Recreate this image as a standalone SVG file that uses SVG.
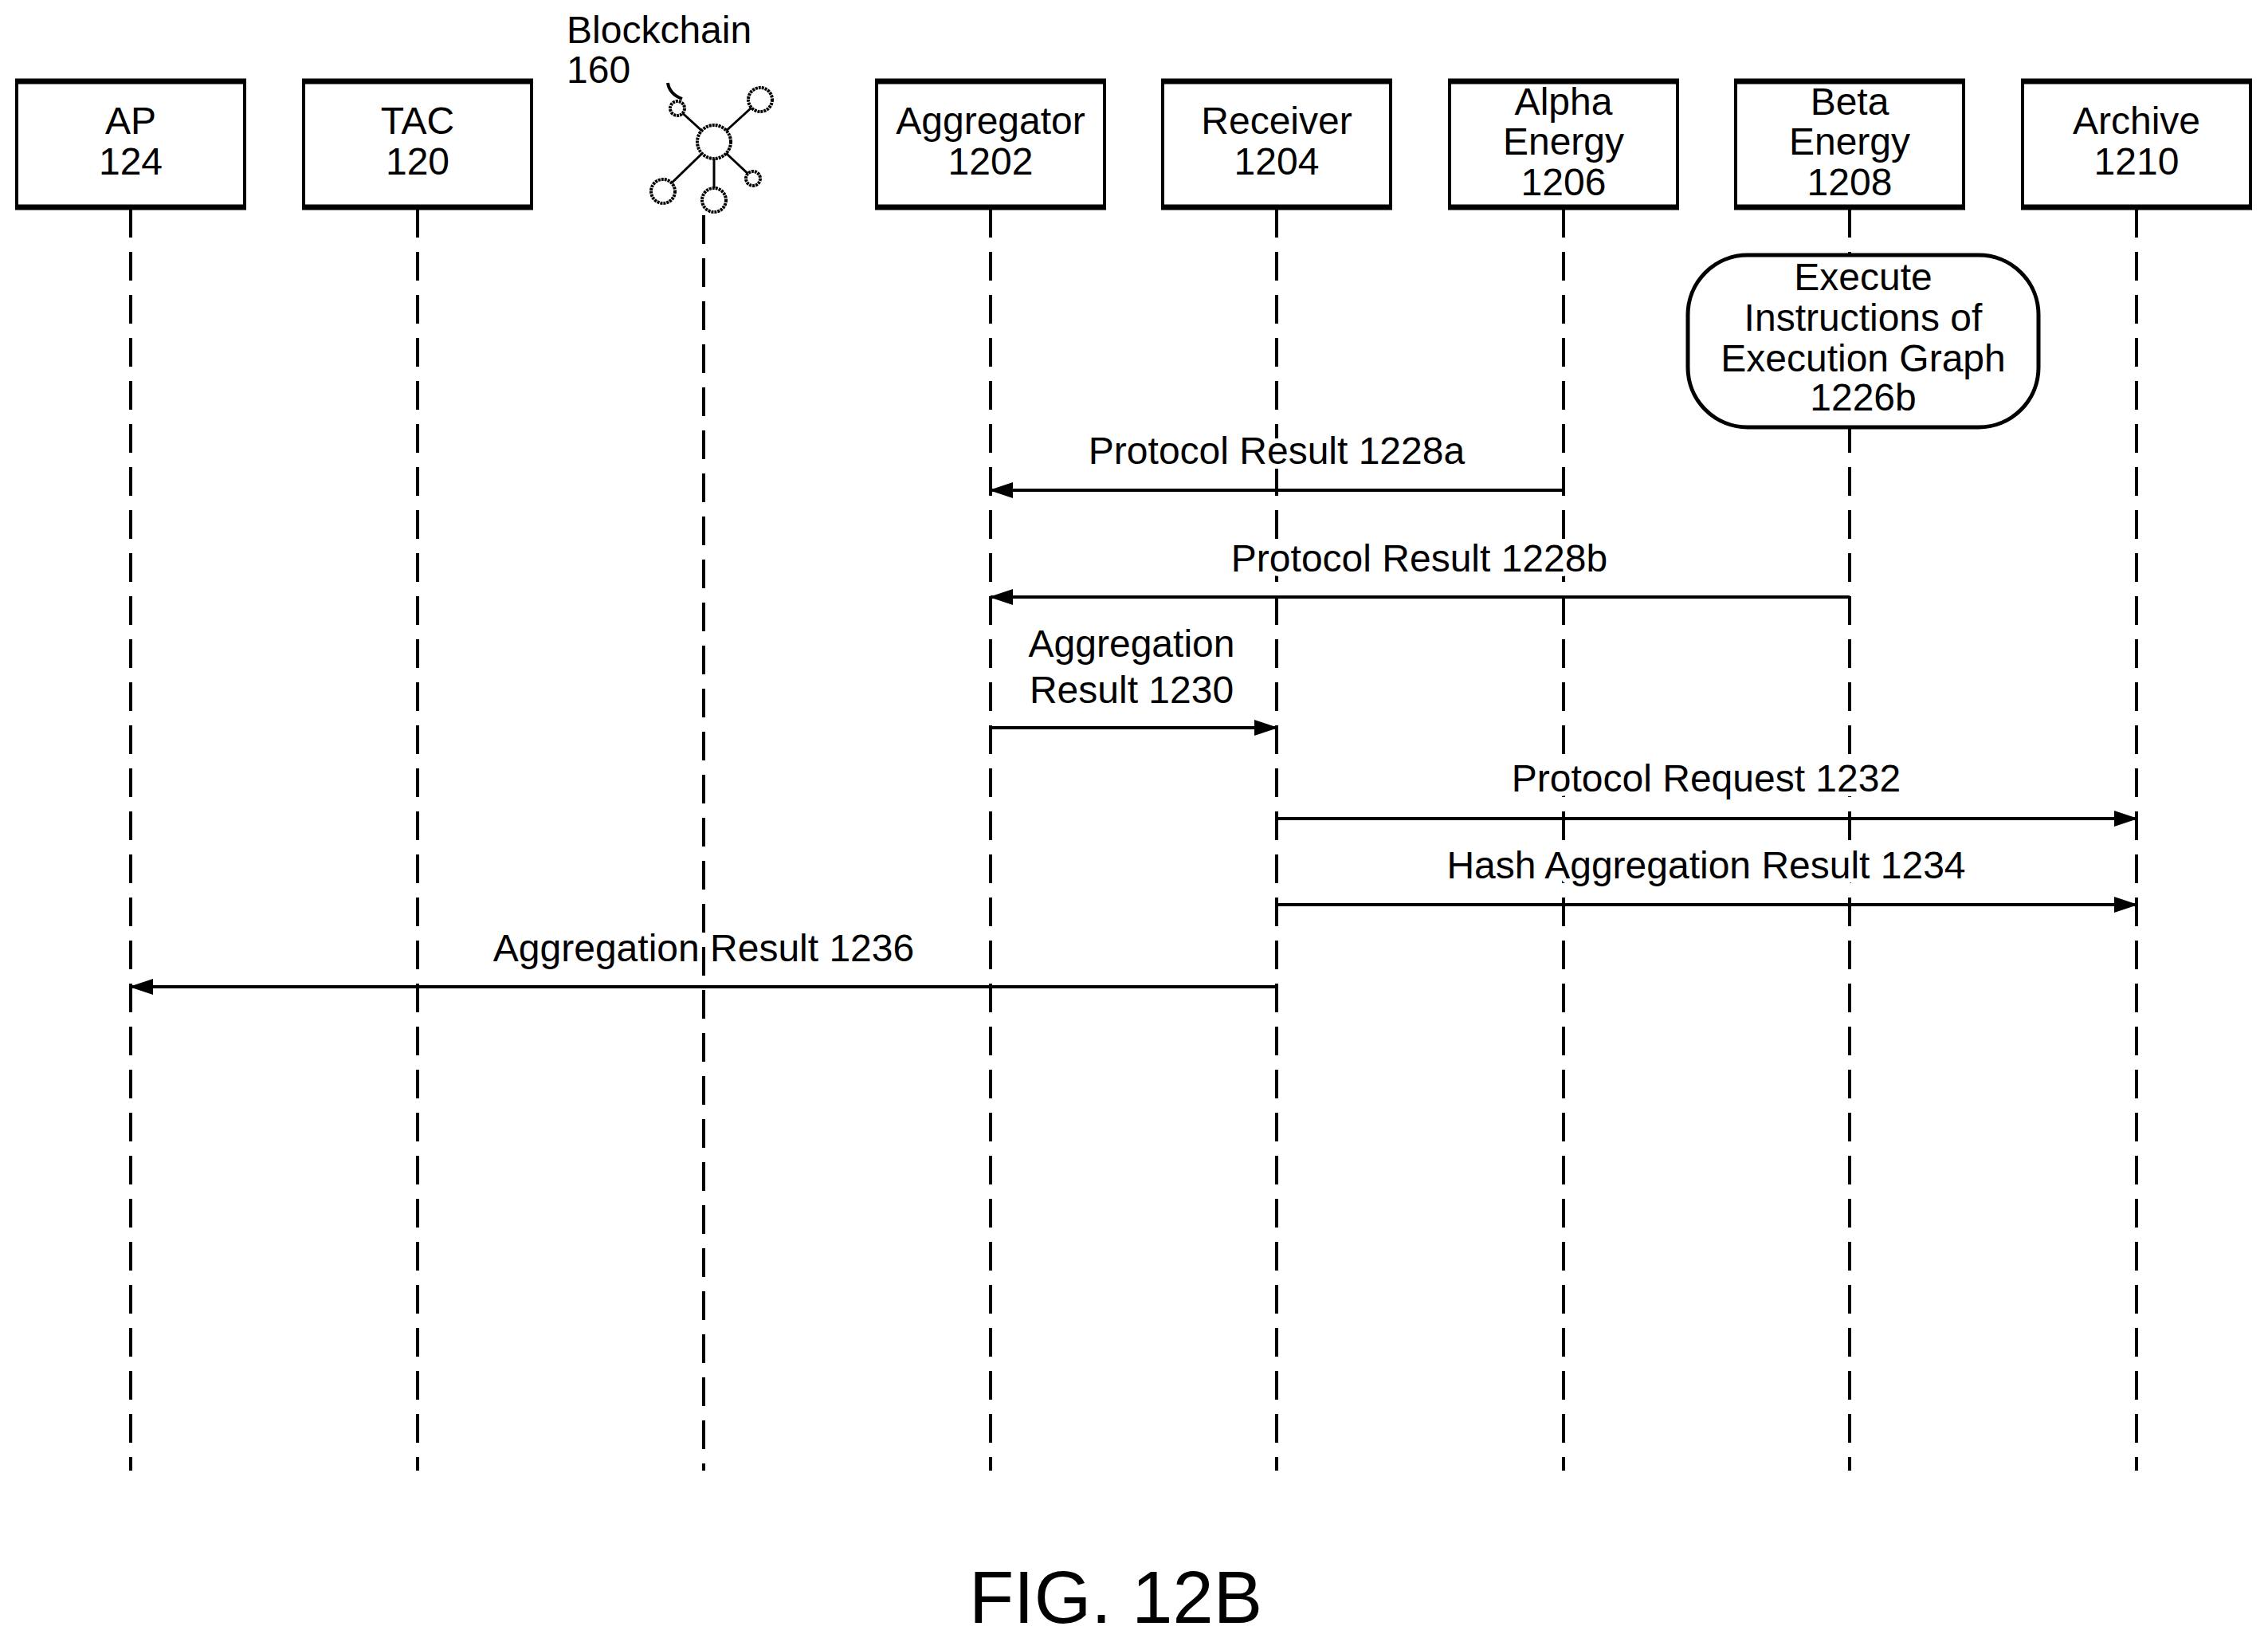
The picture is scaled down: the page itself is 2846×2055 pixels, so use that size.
<svg xmlns="http://www.w3.org/2000/svg" width="2846" height="2055" viewBox="0 0 2846 2055">
<style>
text{font-family:"Liberation Sans",Arial,sans-serif;font-size:48px;fill:#000;text-anchor:middle}
.lbl{stroke:#fff;stroke-width:12;paint-order:stroke;stroke-linejoin:round}
.box{fill:#fff;stroke:#000;stroke-width:4}
.edge{stroke:#000;stroke-width:7}
.life{stroke:#000;stroke-width:4;stroke-dasharray:36 18}
.msg{stroke:#000;stroke-width:4;fill:none;marker-end:url(#ah)}
.ic{fill:#fff;stroke:#000;stroke-width:4;stroke-dasharray:3 1}
</style>
<defs>
<marker id="ah" markerUnits="userSpaceOnUse" markerWidth="30" markerHeight="20" refX="28" refY="10" orient="auto">
<path d="M0,0 L30,10 L0,20 Z" fill="#000"/>
</marker>
</defs>
<rect width="2846" height="2055" fill="#fff"/>
<g id="lifelines">
<line class="life" x1="164" y1="262" x2="164" y2="1845"/>
<line class="life" x1="524" y1="262" x2="524" y2="1845"/>
<line class="life" x1="883" y1="270" x2="883" y2="1845"/>
<line class="life" x1="1243" y1="262" x2="1243" y2="1845"/>
<line class="life" x1="1602" y1="262" x2="1602" y2="1845"/>
<line class="life" x1="1962" y1="262" x2="1962" y2="1845"/>
<line class="life" x1="2321" y1="262" x2="2321" y2="1845"/>
<line class="life" x1="2681" y1="262" x2="2681" y2="1845"/>
</g>
<g id="ap"><rect class="box" x="21" y="102" width="286" height="158"/><line class="edge" x1="19" y1="102" x2="309" y2="102"/><line class="edge" x1="19" y1="260" x2="309" y2="260"/><text x="164" y="168">AP</text><text x="164" y="219">124</text></g>
<g id="tac"><rect class="box" x="381" y="102" width="286" height="158"/><line class="edge" x1="379" y1="102" x2="669" y2="102"/><line class="edge" x1="379" y1="260" x2="669" y2="260"/><text x="524" y="168">TAC</text><text x="524" y="219">120</text></g>
<g id="blockchain">
<text x="711" y="54" style="text-anchor:start">Blockchain</text>
<text x="711" y="104" style="text-anchor:start">160</text>
<path d="M838,104 Q840,118 856,124" fill="none" stroke="#000" stroke-width="4"/>
<g stroke="#000" stroke-width="3">
<line x1="896" y1="178" x2="850" y2="136"/><line x1="896" y1="178" x2="954" y2="125"/>
<line x1="896" y1="178" x2="832" y2="240"/><line x1="896" y1="178" x2="896" y2="251"/>
<line x1="896" y1="178" x2="945" y2="224"/>
</g>
<circle class="ic" cx="896" cy="178" r="21"/>
<circle class="ic" cx="850" cy="136" r="9"/>
<circle class="ic" cx="954" cy="125" r="15"/>
<circle class="ic" cx="832" cy="240" r="15"/>
<circle class="ic" cx="896" cy="251" r="15"/>
<circle class="ic" cx="945" cy="224" r="9"/>
</g>
<g id="aggregator"><rect class="box" x="1100" y="102" width="286" height="158"/><line class="edge" x1="1098" y1="102" x2="1388" y2="102"/><line class="edge" x1="1098" y1="260" x2="1388" y2="260"/><text x="1243" y="168">Aggregator</text><text x="1243" y="219">1202</text></g>
<g id="receiver"><rect class="box" x="1459" y="102" width="286" height="158"/><line class="edge" x1="1457" y1="102" x2="1747" y2="102"/><line class="edge" x1="1457" y1="260" x2="1747" y2="260"/><text x="1602" y="168">Receiver</text><text x="1602" y="219">1204</text></g>
<g id="alpha"><rect class="box" x="1819" y="102" width="286" height="158"/><line class="edge" x1="1817" y1="102" x2="2107" y2="102"/><line class="edge" x1="1817" y1="260" x2="2107" y2="260"/><text x="1962" y="144">Alpha</text><text x="1962" y="194">Energy</text><text x="1962" y="245">1206</text></g>
<g id="beta"><rect class="box" x="2178" y="102" width="286" height="158"/><line class="edge" x1="2176" y1="102" x2="2466" y2="102"/><line class="edge" x1="2176" y1="260" x2="2466" y2="260"/><text x="2321" y="144">Beta</text><text x="2321" y="194">Energy</text><text x="2321" y="245">1208</text></g>
<g id="archive"><rect class="box" x="2538" y="102" width="286" height="158"/><line class="edge" x1="2536" y1="102" x2="2826" y2="102"/><line class="edge" x1="2536" y1="260" x2="2826" y2="260"/><text x="2681" y="168">Archive</text><text x="2681" y="219">1210</text></g>
<g id="execute"><rect class="box" x="2118" y="320" width="440" height="216" rx="75" ry="75" style="stroke-width:5"/>
<text x="2338" y="364">Execute</text><text x="2338" y="415">Instructions of</text><text x="2338" y="466">Execution Graph</text><text x="2338" y="515">1226b</text></g>
<g id="connectors">
<line class="msg" x1="1962" y1="615" x2="1243" y2="615"/>
<text class="lbl" x="1602" y="582">Protocol Result 1228a</text>
<line class="msg" x1="2321" y1="749" x2="1243" y2="749"/>
<text class="lbl" x="1781" y="717">Protocol Result 1228b</text>
<line class="msg" x1="1243" y1="913" x2="1602" y2="913"/>
<text class="lbl" x="1420" y="824">Aggregation</text><text class="lbl" x="1420" y="882">Result 1230</text>
<line class="msg" x1="1602" y1="1027" x2="2681" y2="1027"/>
<text class="lbl" x="2141" y="993">Protocol Request 1232</text>
<line class="msg" x1="1602" y1="1135" x2="2681" y2="1135"/>
<text class="lbl" x="2141" y="1102">Hash Aggregation Result 1234</text>
<line class="msg" x1="1602" y1="1238" x2="164" y2="1238"/>
<text class="lbl" x="883" y="1206">Aggregation Result 1236</text>
</g>
<text x="1400" y="2036" style="font-size:92px">FIG. 12B</text>
</svg>
